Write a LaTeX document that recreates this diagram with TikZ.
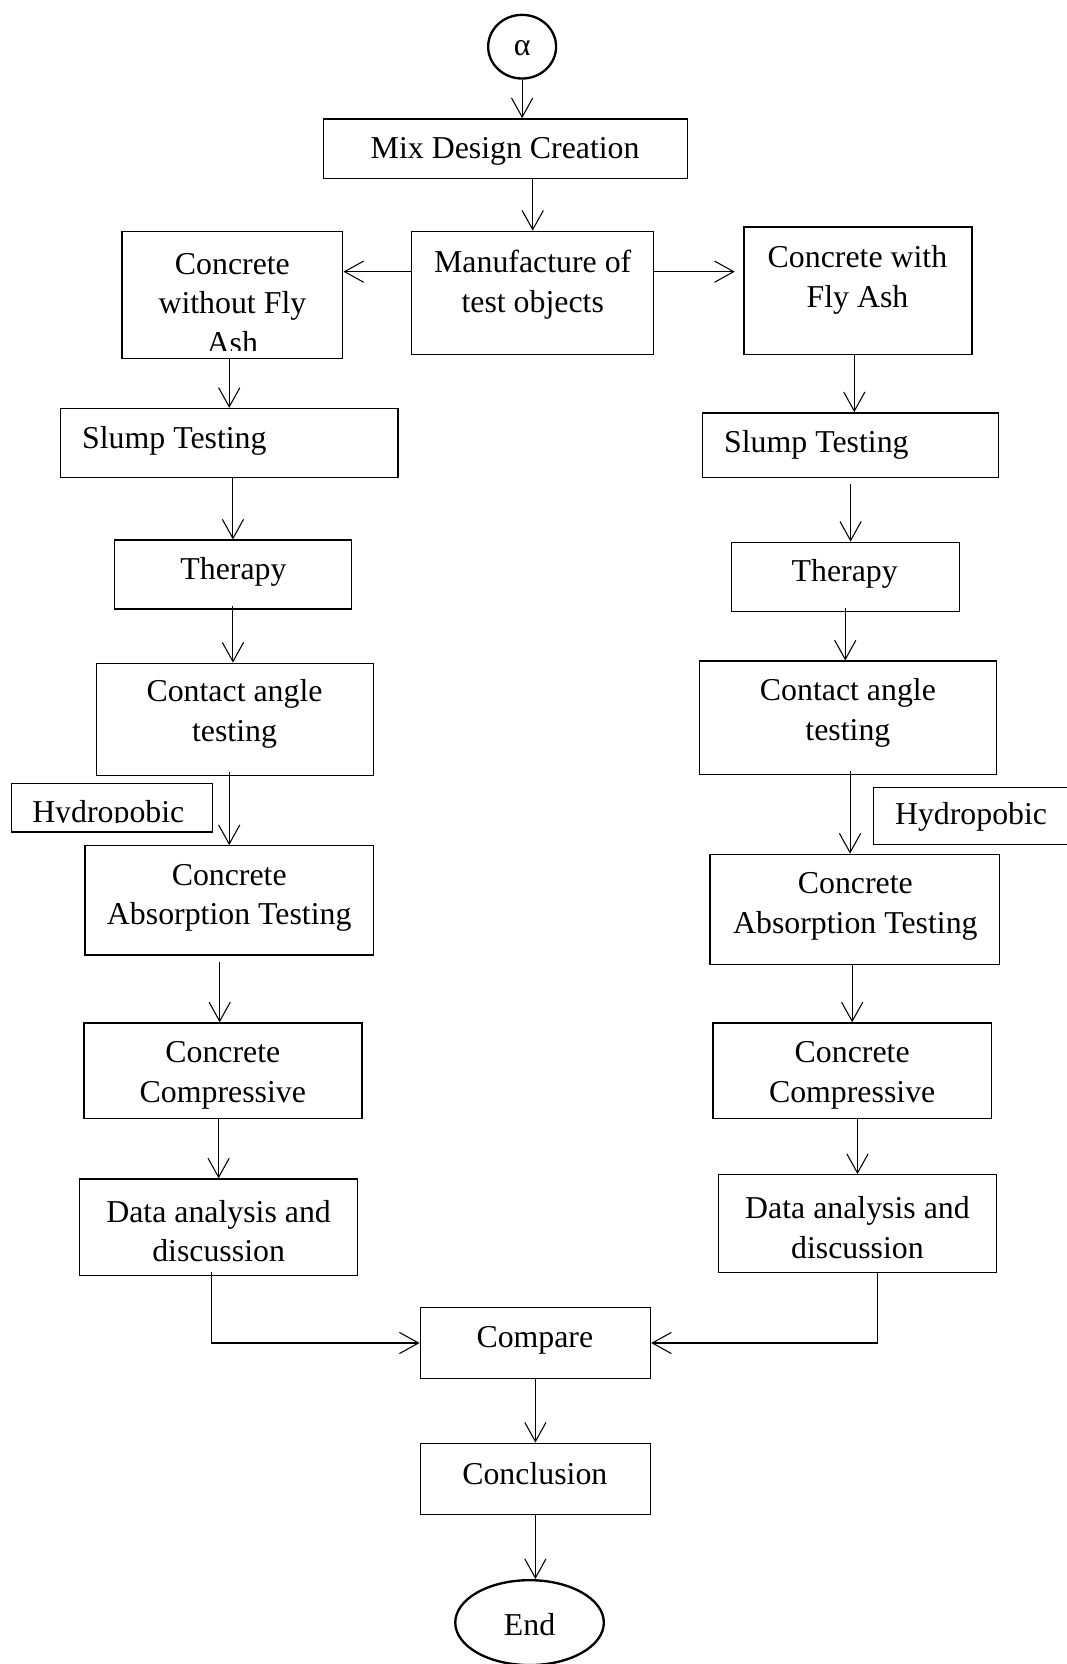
\documentclass[tikz,border=0pt]{standalone}
\usepackage{fontspec}
\setmainfont{Liberation Serif}
\usetikzlibrary{fit,arrows.meta,shapes.geometric}
\begin{document}
\begin{tikzpicture}[x=0.5pt,y=-0.5pt,
  box/.style={draw,line width=0.65pt,inner sep=0pt,rectangle},
  txt/.style={inner sep=0pt,align=center,font=\fontsize{15pt}{18.75pt}\selectfont},
  arr/.style={line width=0.5pt,-{Straight Barb[length=9pt,width=10pt,line width=0.5pt]}},
  ln/.style={line width=0.5pt}]
\useasboundingbox (0,0) rectangle (1005,1568);
% ---- top ----
\node[draw,ellipse,line width=1.1pt,minimum width=32pt,minimum height=30pt,inner sep=0pt] (alpha) at (492,44) {};
\node[txt] (alphaT) at (492,45) {α};
\node[box,fit={(305,112)(648,168)}] (mix) {};
\node[txt] (mixT) at (476,143) {Mix Design Creation};
\node[box,fit={(388,218)(616,334)}] (manu) {};
\node[txt] (manuT) at (502,268) {Manufacture of\\test objects};
\node[box,fit={(115,218)(323,338)}] (cwo) {};
\begin{scope}
\clip (115,218) rectangle (323,330);
\node[txt] (cwoT) at (219,286) {Concrete\\without Fly\\Ash};
\end{scope}
\node[box,fit={(701,214)(916,334)}] (cw) {};
\node[txt] (cwT) at (808,264) {Concrete with\\Fly Ash};
% ---- left column ----
\node[box,fit={(57,385)(375,450)}] (slumpL) {};
\node[txt,anchor=west] (slumpLT) at (77,415) {Slump Testing};
\node[box,fit={(108,509)(331,574)}] (therL) {};
\node[txt] (therLT) at (220,539) {Therapy};
\node[box,fit={(91,625)(352,731)}] (contL) {};
\node[txt] (contLT) at (221,673) {Contact angle\\testing};
\node[box,fit={(11,738)(200,784)}] (hydL) {};
\begin{scope}
\clip (11,738) rectangle (200,775);
\node[txt,anchor=base west] (hydLT) at (30,775) {Hydropobic};
\end{scope}
\node[box,fit={(80,797)(352,900)}] (absL) {};
\node[txt] (absLT) at (216,846) {Concrete\\Absorption Testing};
\node[box,fit={(79,964)(341,1054)}] (compL) {};
\node[txt] (compLT) at (210,1013) {Concrete\\Compressive};
\node[box,fit={(75,1111)(337,1202)}] (dataL) {};
\node[txt] (dataLT) at (206,1160) {Data analysis and\\discussion};
% ---- right column ----
\node[box,fit={(662,389)(941,450)}] (slumpR) {};
\node[txt,anchor=west] (slumpRT) at (682,419) {Slump Testing};
\node[box,fit={(689,511)(904,576)}] (therR) {};
\node[txt] (therRT) at (796,541) {Therapy};
\node[box,fit={(659,623)(939,730)}] (contR) {};
\node[txt] (contRT) at (799,672) {Contact angle\\testing};
\node[box,fit={(823,742)(1014,796)}] (hydR) {};
\node[txt,anchor=west] (hydRT) at (843,770) {Hydropobic};
\node[box,fit={(669,805)(942,909)}] (absR) {};
\node[txt] (absRT) at (806,854) {Concrete\\Absorption Testing};
\node[box,fit={(672,964)(934,1054)}] (compR) {};
\node[txt] (compRT) at (803,1013) {Concrete\\Compressive};
\node[box,fit={(677,1107)(939,1199)}] (dataR) {};
\node[txt] (dataRT) at (808,1157) {Data analysis and\\discussion};
% ---- bottom ----
\node[box,fit={(396,1232)(613,1299)}] (compare) {};
\node[txt] (compareT) at (504,1263) {Compare};
\node[box,fit={(396,1360)(613,1427)}] (concl) {};
\node[txt] (conclT) at (504,1389) {Conclusion};
\node[draw,ellipse,line width=1.1pt,minimum width=70pt,minimum height=40pt,inner sep=0pt] (endN) at (499,1529) {};
\node[txt] (endT) at (499,1531) {End};
% ---- connectors ----
\draw[arr] (alpha.south) -- (alpha.south |- mix.north);
\draw[arr] (mix.south -| manu.north) -- (manu.north);
\draw[arr] ([yshift=10pt]manu.west) -- ([yshift=10pt]manu.west -| cwo.east);
\draw[arr] ([yshift=10pt]manu.east) -- ([yshift=10pt,xshift=-4pt]manu.east -| cw.west);
\draw[arr] ([xshift=-1.5pt]cwo.south) -- ([xshift=-1.5pt]cwo.south |- slumpL.north);
\draw[arr] (slumpL.south -| therL.north) -- (therL.north);
\draw[arr] ([yshift=2pt]therL.south) -- (therL.south |- contL.north);
\draw[arr] ([yshift=2pt]contL.south -| absL.north) -- (absL.north);
\draw[arr] ([yshift=-3pt,xshift=-1.5pt]absL.south -| compL.north) -- ([xshift=-1.5pt]compL.north);
\draw[arr] (compL.south -| dataL.north) -- (dataL.north);
\draw[arr] ([xshift=-3.5pt,yshift=2pt]dataL.south) |- (compare.west);
\draw[arr] ([xshift=9.5pt]dataR.south) |- (compare.east);
\draw[arr] (compare.south) -- (compare.south |- concl.north);
\draw[arr] (concl.south) -- (concl.south |- endN.north);
\draw[arr] ([xshift=-1.75pt]cw.south) -- ([xshift=-1.75pt]cw.south |- slumpR.north);
\draw[arr] ([yshift=-2.5pt]slumpR.south) -- (slumpR.south |- therR.north);
\draw[arr] ([yshift=2pt]therR.south) -- (therR.south |- contR.north);
\draw[arr] ([yshift=2pt,xshift=1pt]contR.south) -- ([xshift=1pt]contR.south |- absR.north);
\draw[arr] (absR.south -| compR.north) -- (compR.north);
\draw[arr] (compR.south -| dataR.north) -- (dataR.north);
\end{tikzpicture}
\end{document}
